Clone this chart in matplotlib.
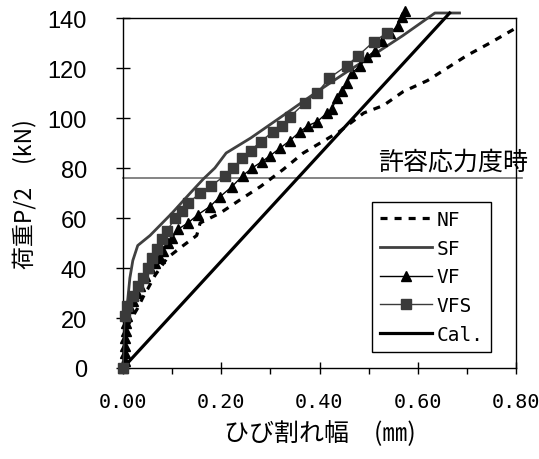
import matplotlib
matplotlib.use("Agg")
import matplotlib.pyplot as plt
from matplotlib.ticker import MultipleLocator
from matplotlib.transforms import ScaledTranslation

# crack width (mm) vs load P/2 (kN)
nf_x = [0, 0.005, 0.018, 0.03, 0.045, 0.05, 0.065, 0.09, 0.116, 0.15, 0.157, 0.198, 0.24, 0.28,
        0.326, 0.367, 0.41, 0.44, 0.49, 0.53, 0.57, 0.62, 0.66, 0.70, 0.747, 0.80]
nf_y = [0, 15, 20, 24, 30, 31.5, 37, 44, 48, 53, 58, 62, 67.5, 72.6,
        79.4, 86, 91, 94.5, 102, 105, 110.5, 115, 120, 125, 130, 136]

sf_x = [0, 0.005, 0.01, 0.014, 0.02, 0.03, 0.055, 0.09, 0.10, 0.137, 0.163, 0.187, 0.21, 0.26,
        0.326, 0.395, 0.456, 0.50, 0.57, 0.635, 0.685]
sf_y = [0, 20, 28, 36, 43, 49, 53, 60, 62, 70, 75.5, 80, 86, 92,
        101, 110.5, 118.5, 124, 133, 142, 142]

vf_x = [0, 0.004, 0.004, 0.005, 0.005, 0.006, 0.007, 0.009, 0.014, 0.02, 0.028, 0.035, 0.045,
        0.055, 0.065, 0.075, 0.082, 0.092, 0.10, 0.112, 0.132, 0.153, 0.177, 0.198, 0.222,
        0.244, 0.263, 0.283, 0.30, 0.32, 0.34, 0.36, 0.377, 0.395, 0.415, 0.425, 0.435, 0.446,
        0.456, 0.466, 0.483, 0.497, 0.513, 0.527, 0.544, 0.56, 0.568, 0.575]
vf_y = [0, 3, 6, 9, 12, 15, 18, 21, 24, 27, 30, 33, 37,
        40, 42, 44, 47, 50, 52, 55.5, 58, 61.4, 64.6, 68.6, 72.6,
        77, 80, 82.6, 85, 88, 91, 94.5, 97, 98.5, 102, 103.5, 108, 111,
        114, 118, 121, 124.5, 127, 131, 134, 137, 140.5, 143]

vfs_x = [0, 0.004, 0.008, 0.02, 0.03, 0.04, 0.05, 0.06, 0.07, 0.08, 0.09, 0.106, 0.12, 0.133,
         0.157, 0.18, 0.208, 0.224, 0.243, 0.26, 0.28, 0.305, 0.324, 0.34, 0.37, 0.395, 0.42,
         0.456, 0.479, 0.51, 0.537]
vfs_y = [0, 21, 25, 29, 33, 36, 40, 44, 47.5, 51.5, 55, 60, 63, 66,
         70, 73, 77, 80, 84, 87, 90.5, 94.5, 97, 100.5, 106, 110, 116,
         121, 125, 130.5, 134]

cal_x = [0, 0.665]
cal_y = [0, 142]

allow_load = 76
allow_label = "許容応力度時"

xticks = [0, 0.2, 0.4, 0.6, 0.8]
xtick_labels = ["0.00", "0.20", "0.40", "0.60", "0.80"]
yticks = [0, 20, 40, 60, 80, 100, 120, 140]

fig = plt.figure(figsize=(5.39, 4.60), dpi=100)
ax = fig.add_axes([123 / 539, 91 / 460, 393 / 539, 350 / 460])

ax.plot(nf_x, nf_y, color="black", lw=2.3, dashes=(2.2, 2.2), label="NF", clip_on=False, zorder=3)
ax.plot(sf_x, sf_y, color="#404040", lw=2.0, label="SF", clip_on=False, zorder=3)
ax.plot(vf_x, vf_y, color="black", lw=1.0, marker="^", ms=7, label="VF", clip_on=False, zorder=4)
ax.plot(vfs_x, vfs_y, color="#3a3a3a", lw=1.0, marker="s", ms=6.5, label="VFS", clip_on=False, zorder=4)
ax.plot(cal_x, cal_y, color="black", lw=2.3, label="Cal.", clip_on=False, zorder=3)

# allowable stress line
ax.plot([0, 0.813], [allow_load, allow_load], color="#707070", lw=1.2, clip_on=False, zorder=2)
ax.text(0.52, allow_load + 1.2, allow_label, fontsize=18, family=["Noto Sans CJK JP"],
        ha="left", va="bottom")

ax.set_xlim(0, 0.8)
ax.set_ylim(0, 140)
ax.set_xticks(xticks)
ax.set_xticklabels(xtick_labels, family="DejaVu Sans Mono", fontsize=14.5)
ax.xaxis.set_minor_locator(MultipleLocator(0.1))
ax.set_yticks(yticks)
ax.set_yticklabels([str(v) for v in yticks], family="Liberation Sans", fontsize=17)

# Excel-style labels sit a little left of their tick
shift = ScaledTranslation(-9 / 100, 0, fig.dpi_scale_trans)
for lbl in ax.get_xticklabels():
    lbl.set_transform(lbl.get_transform() + shift)

ax.tick_params(axis="y", which="major", direction="inout", length=10, width=1, pad=21)
ax.tick_params(axis="x", which="major", direction="inout", length=9, width=1, pad=13)
ax.tick_params(axis="x", which="minor", direction="out", length=4, width=1)
for s in ax.spines.values():
    s.set_linewidth(1.0)

ax.set_xlabel("ひび割れ幅　(㎜)", family=["Noto Sans CJK JP", "DejaVu Sans"], fontsize=18, labelpad=6)
ax.set_ylabel("荷重P/2　(kN)", family=["Noto Sans CJK JP", "DejaVu Sans"], fontsize=16.5, labelpad=8)

leg = ax.legend(loc="upper left", bbox_to_anchor=(0.634, 0.474), borderaxespad=0,
                fancybox=False, framealpha=1, edgecolor="black", handlelength=2.7,
                handletextpad=0.2, labelspacing=0.5, borderpad=0.4,
                prop={"family": "DejaVu Sans Mono", "size": 14})
leg.get_frame().set_linewidth(1.0)

plt.savefig("out.png", dpi=100, facecolor="white")
